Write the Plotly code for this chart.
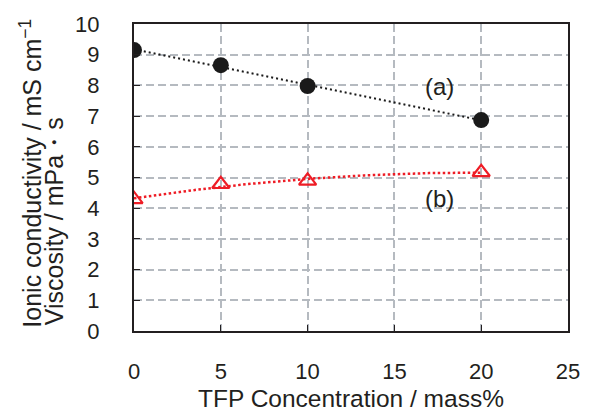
import numpy as np
import plotly.graph_objects as go

conc = [0, 5, 10, 20]
cond_a = [9.15, 8.66, 7.98, 6.87]
visc_b = [4.29, 4.78, 4.89, 5.17]
x_ticks = [0, 5, 10, 15, 20, 25]
y_ticks = list(range(0, 11))

FONT = "Liberation Sans, Arial, sans-serif"
TXT = "#231f20"
GRID = "#b5bac0"

xs = np.linspace(min(conc), max(conc), 200)
fit_a = np.polyval(np.polyfit(conc, cond_a, 1), xs)
fit_b = np.polyval(np.polyfit(conc, visc_b, 2), xs)

fig = go.Figure()
fig.add_trace(go.Scatter(x=xs, y=fit_a, mode="lines",
                         line=dict(color="#1a1a1a", width=2, dash="2px,3px"), showlegend=False))
fig.add_trace(go.Scatter(x=xs, y=fit_b, mode="lines",
                         line=dict(color="#ee1c25", width=2.5, dash="2.5px,2.5px"), showlegend=False))
fig.add_trace(go.Scatter(x=conc, y=cond_a, mode="markers",
                         marker=dict(symbol="circle", size=16, color="#1a1a1a"), showlegend=False))
fig.add_trace(go.Scatter(x=conc, y=visc_b, mode="markers",
                         marker=dict(symbol="triangle-up-open", size=15, color="#ee1c25",
                                     line=dict(width=2.2, color="#ee1c25")), showlegend=False))

fig.add_annotation(x=17.57, y=7.95, text="(a)", showarrow=False,
                   font=dict(size=24, color=TXT, family=FONT))
fig.add_annotation(x=17.57, y=4.3, text="(b)", showarrow=False,
                   font=dict(size=24, color=TXT, family=FONT))

# axis titles as annotations for precise placement
fig.add_annotation(xref="paper", yref="paper", x=0.5, y=(331 - 413) / 307, text="TFP Concentration / mass%",
                   showarrow=False, xanchor="center", yanchor="bottom", borderpad=0,
                   font=dict(size=24.5, color=TXT, family=FONT))
fig.add_annotation(xref="paper", yref="paper", x=(29 - 134) / 441, y=(331 - 173) / 307,
                   text="Ionic conductivity / mS cm<sup>−1</sup>", textangle=-90,
                   showarrow=False, xanchor="center", yanchor="middle",
                   font=dict(size=25, color=TXT, family=FONT))
fig.add_annotation(xref="paper", yref="paper", x=(53 - 134) / 441, y=(331 - 221) / 307,
                   text="Viscosity / mPa・s", textangle=-90,
                   showarrow=False, xanchor="center", yanchor="middle",
                   font=dict(size=25, color=TXT, family=FONT))

fig.update_xaxes(range=[0, 25], tickvals=x_ticks, ticks="inside", ticklen=6, tickcolor="#231f20",
                 showgrid=True, gridcolor=GRID, griddash="8px,4px", gridwidth=2,
                 showline=True, linecolor="#231f20", linewidth=2, mirror=True, zeroline=False,
                 tickfont=dict(size=22, color=TXT, family=FONT), ticklabelstandoff=20)
fig.update_yaxes(range=[0, 10], tickvals=y_ticks, ticks="inside", ticklen=6, tickcolor="#231f20",
                 showgrid=True, gridcolor=GRID, griddash="8px,4px", gridwidth=2,
                 showline=True, linecolor="#231f20", linewidth=2, mirror=True, zeroline=False,
                 tickfont=dict(size=22, color=TXT, family=FONT), ticklabelstandoff=28)

fig.update_layout(width=592, height=414, margin=dict(l=134, r=17, t=24, b=83),
                  plot_bgcolor="white", paper_bgcolor="white", font=dict(family=FONT, color=TXT))
fig.write_html("out.html")
